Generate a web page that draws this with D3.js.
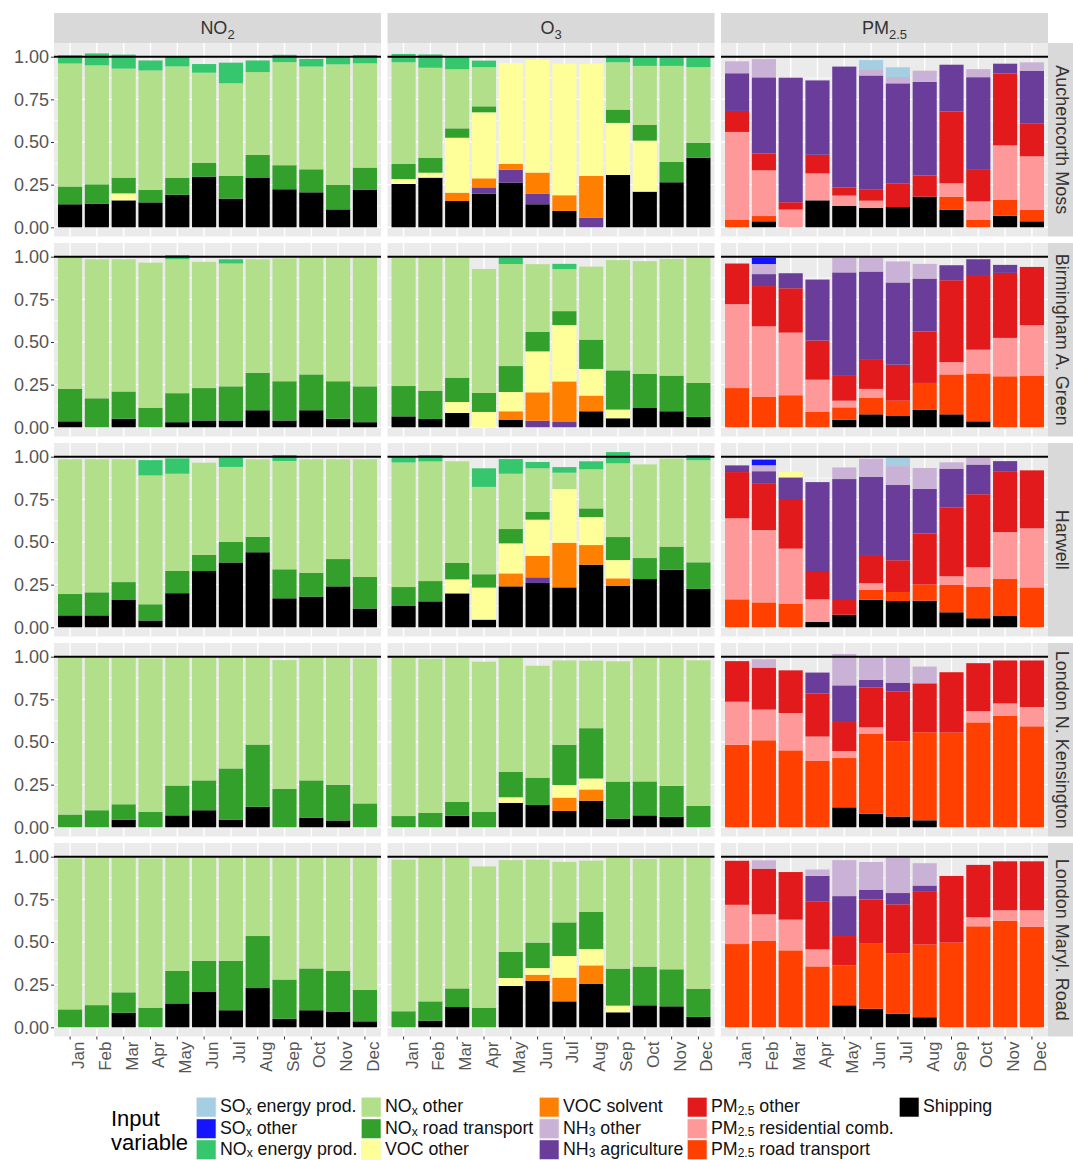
<!DOCTYPE html>
<html>
<head>
<meta charset="utf-8">
<script src="https://cdn.jsdelivr.net/npm/d3@7"></script>
<style>
  body { margin: 0; background: #fff; }
  text { font-family: "Liberation Sans", Arial, sans-serif; white-space: pre; }
</style>
</head>
<body>
<div id="chart"></div>
<script>
var months = ["Jan", "Feb", "Mar", "Apr", "May", "Jun", "Jul", "Aug", "Sep", "Oct", "Nov", "Dec"];
var yTicks = [0, 0.25, 0.5, 0.75, 1];
var yMinor = [0.125, 0.375, 0.625, 0.875];
var sites = ["Auchencorth Moss", "Birmingham A. Green", "Harwell", "London N. Kensington", "London Maryl. Road"];
var zero = [0, 0, 0, 0, 0, 0, 0, 0, 0, 0, 0, 0];

// Auchencorth Moss
var moss_no2_ship = [.135, .139, .158, .146, .191, .297, .168, .289, .223, .205, .105, .219];
var moss_no2_vocOther = [0, 0, .041, 0, 0, 0, 0, 0, 0, 0, 0, 0];
var moss_no2_noxRoad = [.104, .113, .092, .074, .098, .080, .133, .135, .141, .135, .143, .131];
var moss_no2_noxOther = [.721, .697, .639, .699, .654, .529, .543, .486, .604, .602, .707, .611];
var moss_no2_noxEnergy = [.049, .070, .082, .059, .057, .051, .121, .068, .043, .045, .049, .049];

var moss_o3_ship = [.254, .291, .154, .197, .262, .135, .096, 0, .307, .209, .264, .408];
var moss_o3_nh3Agri = [0, 0, 0, .037, .076, .061, 0, .055, 0, 0, 0, 0];
var moss_o3_vocSolv = [0, 0, .049, .053, .033, .125, .092, .246, 0, 0, 0, 0];
var moss_o3_vocOther = [.029, .029, .322, .387, .592, .660, .771, .658, .305, .299, 0, 0];
var moss_o3_noxRoad = [.088, .088, .055, .035, 0, 0, 0, 0, .078, .092, .119, .088];
var moss_o3_noxOther = [.596, .527, .346, .229, 0, 0, 0, 0, .277, .346, .563, .443];
var moss_o3_noxEnergy = [.049, .078, .074, .039, 0, 0, 0, 0, .039, .051, .051, .057];

var moss_pm_ship = [0, .035, 0, .158, .125, .113, .119, .180, .102, 0, .068, .035];
var moss_pm_pmRoad = [.043, .031, 0, 0, 0, 0, 0, 0, .078, .045, .094, .068];
var moss_pm_pmRes = [.516, .268, .104, .158, .061, .043, 0, 0, .078, .107, .318, .313];
var moss_pm_pmOther = [.123, .098, .043, .109, .047, .064, .139, .123, .420, .189, .422, .191];
var moss_pm_nh3Agri = [.221, .447, .730, .436, .709, .670, .586, .549, .275, .539, .057, .311];
var moss_pm_nh3Other = [.070, .107, 0, 0, 0, .037, .037, .066, 0, .047, 0, .049];
var moss_pm_soxEnergy = [0, 0, 0, 0, 0, .053, .057, 0, 0, 0, 0, 0];

// Birmingham A. Green
var bham_no2_ship = [.035, 0, .05, 0, .03, .04, .04, .10, .04, .10, .05, .03];
var bham_no2_noxRoad = [.19, .17, .16, .115, .17, .19, .20, .22, .23, .21, .22, .21];
var bham_no2_noxOther = [.775, .815, .775, .85, .785, .74, .72, .665, .72, .685, .725, .755];
var bham_no2_noxEnergy = [0, 0, 0, 0, .025, 0, .025, 0, 0, 0, 0, 0];

var bham_o3_ship = [.064, .049, .084, 0, .045, 0, 0, .094, .053, .113, .094, .061];
var bham_o3_nh3Agri = [0, 0, 0, 0, 0, .039, .031, 0, 0, 0, 0, 0];
var bham_o3_vocSolv = [0, 0, 0, 0, .049, .166, .238, .092, 0, 0, 0, 0];
var bham_o3_vocOther = [0, 0, .064, .090, .113, .240, .330, .156, .051, 0, 0, 0];
var bham_o3_noxRoad = [.178, .166, .143, .111, .152, .115, .082, .172, .230, .201, .209, .199];
var bham_o3_noxOther = [.752, .779, .703, .727, .598, .396, .246, .428, .646, .660, .684, .734];
var bham_o3_noxEnergy = [0, 0, 0, 0, .037, 0, .031, 0, 0, 0, 0, 0];

var bham_pm_ship = [0, 0, 0, 0, .045, .076, .066, .102, .076, .035, 0, 0];
var bham_pm_pmRoad = [.230, .180, .188, .090, .072, .098, .090, .158, .234, .281, .299, .301];
var bham_pm_pmRes = [.492, .412, .367, .189, .039, .051, 0, 0, .072, .139, .225, .297];
var bham_pm_pmOther = [.238, .236, .260, .230, .150, .170, .211, .301, .480, .432, .381, .342];
var bham_pm_nh3Agri = [0, .070, .088, .357, .602, .518, .482, .311, .088, .098, .047, 0];
var bham_pm_nh3Other = [0, .059, 0, 0, .086, .082, .123, .086, 0, 0, 0, 0];
var bham_pm_soxOther = [0, .037, 0, 0, 0, 0, 0, 0, 0, 0, 0, 0];

// Harwell
var harw_no2_ship = [.07, .07, .16, .04, .20, .33, .38, .44, .17, .18, .24, .11];
var harw_no2_noxRoad = [.125, .135, .105, .095, .13, .095, .12, .09, .17, .14, .16, .185];
var harw_no2_noxOther = [.79, .78, .72, .755, .57, .54, .44, .455, .635, .665, .585, .69];
var harw_no2_noxEnergy = [0, 0, 0, .09, .09, 0, .055, 0, .035, 0, 0, 0];

var harw_o3_ship = [.125, .152, .199, .045, .240, .260, .234, .367, .242, .283, .338, .225];
var harw_o3_nh3Agri = [0, 0, 0, 0, 0, .033, 0, 0, 0, 0, 0, 0];
var harw_o3_vocSolv = [0, 0, 0, 0, .076, .125, .262, .115, .045, 0, 0, 0];
var harw_o3_vocOther = [0, 0, .082, .188, .176, .213, .314, .164, .107, 0, 0, 0];
var harw_o3_noxRoad = [.111, .119, .096, .078, .084, .045, 0, .051, .135, .123, .135, .156];
var harw_o3_noxOther = [.730, .701, .596, .512, .324, .256, .096, .229, .432, .549, .516, .598];
var harw_o3_noxEnergy = [.031, .037, 0, .109, .086, .037, .033, .047, .066, 0, 0, .031];

var harw_pm_ship = [0, 0, 0, .031, .074, .162, .154, .156, .088, .053, .066, 0];
var harw_pm_pmRoad = [.164, .146, .139, 0, 0, .057, .053, .094, .160, .186, .217, .234];
var harw_pm_pmRes = [.475, .424, .322, .133, 0, .039, 0, 0, .051, .113, .275, .346];
var harw_pm_pmOther = [.271, .275, .291, .166, .086, .166, .186, .299, .402, .428, .357, .340];
var harw_pm_nh3Agri = [.039, .070, .127, .521, .709, .457, .441, .262, .229, .174, .059, 0];
var harw_pm_nh3Other = [0, .035, 0, 0, .068, .107, .111, .123, .037, .041, 0, 0];
var harw_pm_vocOther = [0, 0, .033, 0, 0, 0, 0, 0, 0, 0, 0, 0];
var harw_pm_soxOther = [0, .033, 0, 0, 0, 0, 0, 0, 0, 0, 0, 0];
var harw_pm_soxEnergy = [0, 0, 0, 0, 0, 0, .049, 0, 0, 0, 0, 0];

// London N. Kensington
var kens_no2_ship = [0, 0, .045, 0, .07, .10, .045, .12, 0, .055, .04, 0];
var kens_no2_noxRoad = [.075, .10, .09, .09, .175, .175, .30, .365, .225, .22, .21, .14];
var kens_no2_noxOther = [.92, .895, .86, .90, .75, .72, .65, .51, .755, .72, .745, .85];

var kens_o3_ship = [0, 0, .068, 0, .143, .131, .096, .156, .051, .070, .061, 0];
var kens_o3_vocSolv = [0, 0, 0, 0, 0, 0, .078, .066, 0, 0, 0, 0];
var kens_o3_vocOther = [0, 0, 0, 0, .033, 0, .074, .064, 0, 0, 0, 0];
var kens_o3_noxRoad = [.066, .084, .082, .090, .150, .160, .236, .295, .217, .199, .182, .125];
var kens_o3_noxOther = [.928, .904, .844, .881, .668, .656, .494, .396, .705, .725, .752, .854];

var kens_pm_ship = [0, 0, 0, 0, .117, .080, .063, .041, 0, 0, 0, 0];
var kens_pm_pmRoad = [.484, .510, .451, .391, .289, .467, .441, .516, .555, .615, .654, .592];
var kens_pm_pmRes = [.252, .180, .219, .141, .041, .039, 0, 0, 0, .066, .072, .113];
var kens_pm_pmOther = [.238, .246, .250, .252, .170, .234, .291, .287, .354, .281, .252, .273];
var kens_pm_nh3Agri = [0, 0, 0, .123, .215, .045, .053, 0, 0, 0, 0, 0];
var kens_pm_nh3Other = [0, .049, 0, 0, .184, .133, .150, .098, 0, 0, 0, 0];

// London Maryl. Road
var mary_no2_ship = [0, 0, .085, 0, .14, .21, .10, .23, .05, .10, .09, .035];
var mary_no2_noxRoad = [.105, .13, .12, .115, .19, .18, .29, .305, .23, .245, .24, .185];
var mary_no2_noxOther = [.885, .865, .79, .875, .665, .605, .605, .46, .715, .65, .665, .775];

var mary_o3_ship = [0, .039, .119, 0, .242, .273, .152, .254, .088, .129, .123, .061];
var mary_o3_vocSolv = [0, 0, 0, 0, 0, .035, .139, .109, 0, 0, 0, 0];
var mary_o3_vocOther = [0, 0, 0, 0, .047, .039, .127, .096, .039, 0, 0, 0];
var mary_o3_noxRoad = [.094, .113, .109, .115, .154, .150, .197, .217, .217, .227, .217, .164];
var mary_o3_noxOther = [.889, .844, .764, .828, .537, .486, .355, .301, .648, .631, .652, .768];

var mary_pm_ship = [0, 0, 0, 0, .129, .109, .080, .059, 0, 0, 0, 0];
var mary_pm_pmRoad = [.488, .506, .451, .357, .234, .381, .352, .426, .496, .592, .625, .590];
var mary_pm_pmRes = [.230, .156, .180, .100, 0, 0, 0, 0, 0, .053, .061, .096];
var mary_pm_pmOther = [.258, .268, .279, .279, .172, .260, .289, .309, .391, .307, .287, .287];
var mary_pm_nh3Agri = [0, 0, 0, .152, .234, .057, .066, .037, 0, 0, 0, 0];
var mary_pm_nh3Other = [0, .049, 0, .037, .211, .162, .209, .131, 0, 0, 0, 0];

// stack order, bottom to top
var stackKeys = ["ship", "pmRoad", "pmRes", "pmOther", "nh3Agri", "nh3Other", "vocSolv", "vocOther",
    "noxRoad", "noxOther", "noxEnergy", "soxOther", "soxEnergy"];

var colors = {
    soxEnergy: "#A6CEE3", soxOther: "#1414FF", noxEnergy: "#36C76E", noxOther: "#B2DF8A",
    noxRoad: "#33A02C", vocOther: "#FFFF99", vocSolv: "#FF7F00", nh3Other: "#CAB2D6",
    nh3Agri: "#6A3D9A", pmOther: "#E31A1C", pmRes: "#FF9999", pmRoad: "#FF4000", ship: "#000000"
};

// legend text, [plain, subscript, plain]
var legendLabels = {
    soxEnergy: ["SO", "x", " energy prod."], soxOther: ["SO", "x", " other"], noxEnergy: ["NO", "x", " energy prod."],
    noxOther: ["NO", "x", " other"], noxRoad: ["NO", "x", " road transport"], vocOther: ["VOC other", "", ""],
    vocSolv: ["VOC solvent", "", ""], nh3Other: ["NH", "3", " other"], nh3Agri: ["NH", "3", " agriculture"],
    pmOther: ["PM", "2.5", " other"], pmRes: ["PM", "2.5", " residential comb."], pmRoad: ["PM", "2.5", " road transport"],
    ship: ["Shipping", "", ""]
};
var legendColumns = [
    ["soxEnergy", "soxOther", "noxEnergy"],
    ["noxOther", "noxRoad", "vocOther"],
    ["vocSolv", "nh3Other", "nh3Agri"],
    ["pmOther", "pmRes", "pmRoad"],
    ["ship"]
];

var pollutants = [["NO", "2"], ["O", "3"], ["PM", "2.5"]];

// one row per site, one cell per pollutant
var table = [
    [{ ship: moss_no2_ship, vocOther: moss_no2_vocOther, noxRoad: moss_no2_noxRoad, noxOther: moss_no2_noxOther, noxEnergy: moss_no2_noxEnergy },
     { ship: moss_o3_ship, nh3Agri: moss_o3_nh3Agri, vocSolv: moss_o3_vocSolv, vocOther: moss_o3_vocOther, noxRoad: moss_o3_noxRoad, noxOther: moss_o3_noxOther, noxEnergy: moss_o3_noxEnergy },
     { ship: moss_pm_ship, pmRoad: moss_pm_pmRoad, pmRes: moss_pm_pmRes, pmOther: moss_pm_pmOther, nh3Agri: moss_pm_nh3Agri, nh3Other: moss_pm_nh3Other, soxEnergy: moss_pm_soxEnergy }],
    [{ ship: bham_no2_ship, noxRoad: bham_no2_noxRoad, noxOther: bham_no2_noxOther, noxEnergy: bham_no2_noxEnergy },
     { ship: bham_o3_ship, nh3Agri: bham_o3_nh3Agri, vocSolv: bham_o3_vocSolv, vocOther: bham_o3_vocOther, noxRoad: bham_o3_noxRoad, noxOther: bham_o3_noxOther, noxEnergy: bham_o3_noxEnergy },
     { ship: bham_pm_ship, pmRoad: bham_pm_pmRoad, pmRes: bham_pm_pmRes, pmOther: bham_pm_pmOther, nh3Agri: bham_pm_nh3Agri, nh3Other: bham_pm_nh3Other, soxOther: bham_pm_soxOther }],
    [{ ship: harw_no2_ship, noxRoad: harw_no2_noxRoad, noxOther: harw_no2_noxOther, noxEnergy: harw_no2_noxEnergy },
     { ship: harw_o3_ship, nh3Agri: harw_o3_nh3Agri, vocSolv: harw_o3_vocSolv, vocOther: harw_o3_vocOther, noxRoad: harw_o3_noxRoad, noxOther: harw_o3_noxOther, noxEnergy: harw_o3_noxEnergy },
     { ship: harw_pm_ship, pmRoad: harw_pm_pmRoad, pmRes: harw_pm_pmRes, pmOther: harw_pm_pmOther, nh3Agri: harw_pm_nh3Agri, nh3Other: harw_pm_nh3Other, vocOther: harw_pm_vocOther, soxOther: harw_pm_soxOther, soxEnergy: harw_pm_soxEnergy }],
    [{ ship: kens_no2_ship, noxRoad: kens_no2_noxRoad, noxOther: kens_no2_noxOther },
     { ship: kens_o3_ship, vocSolv: kens_o3_vocSolv, vocOther: kens_o3_vocOther, noxRoad: kens_o3_noxRoad, noxOther: kens_o3_noxOther },
     { ship: kens_pm_ship, pmRoad: kens_pm_pmRoad, pmRes: kens_pm_pmRes, pmOther: kens_pm_pmOther, nh3Agri: kens_pm_nh3Agri, nh3Other: kens_pm_nh3Other }],
    [{ ship: mary_no2_ship, noxRoad: mary_no2_noxRoad, noxOther: mary_no2_noxOther },
     { ship: mary_o3_ship, vocSolv: mary_o3_vocSolv, vocOther: mary_o3_vocOther, noxRoad: mary_o3_noxRoad, noxOther: mary_o3_noxOther },
     { ship: mary_pm_ship, pmRoad: mary_pm_pmRoad, pmRes: mary_pm_pmRes, pmOther: mary_pm_pmOther, nh3Agri: mary_pm_nh3Agri, nh3Other: mary_pm_nh3Other }]
];

// layout
var width = 1073, height = 1160;
var panelX = [54, 387.5, 721], panelW = 327;
var panelTop = [43, 243, 443, 643, 843], panelH = 193.5;
var unitPx = 170.6;         // pixels per 1.00 on the y axis
var zeroOffset = 184.3;     // panel top to y = 0
var stripRightW = 25;

var svg = d3.select("#chart").append("svg")
    .attr("width", width)
    .attr("height", height)
    .style("display", "block");

function addSub(sel, parts, subSize, dy) {
    sel.append("tspan").text(parts[0]);
    if (parts[1]) {
        sel.append("tspan").attr("font-size", subSize).attr("dy", dy).text(parts[1]);
    }
    if (parts[2]) {
        sel.append("tspan").attr("dy", -dy).text(parts[2]);
    }
}

var stack = d3.stack().keys(stackKeys);

// top strips
pollutants.forEach(function(p, c) {
    svg.append("rect").attr("x", panelX[c]).attr("y", 13).attr("width", panelW).attr("height", 30).attr("fill", "#D9D9D9");
    var t = svg.append("text")
        .attr("x", panelX[c] + panelW / 2)
        .attr("y", 34)
        .attr("text-anchor", "middle")
        .attr("font-size", 18)
        .attr("fill", "#333");
    addSub(t, p, 13, 5);
});

table.forEach(function(row, r) {
    var y0 = panelTop[r] + zeroOffset;
    var y = d3.scaleLinear().domain([0, 1]).range([y0, y0 - unitPx]);

    // right strip
    svg.append("rect")
        .attr("x", panelX[2] + panelW)
        .attr("y", panelTop[r])
        .attr("width", stripRightW)
        .attr("height", panelH)
        .attr("fill", "#D9D9D9");
    svg.append("text")
        .attr("transform", "translate(" + (panelX[2] + panelW + 8) + "," + (panelTop[r] + panelH / 2) + ") rotate(90)")
        .attr("text-anchor", "middle")
        .attr("font-size", 18)
        .attr("fill", "#333")
        .text(sites[r]);

    row.forEach(function(cell, c) {
        var x = d3.scaleBand()
            .domain(months)
            .range([panelX[c], panelX[c] + panelW])
            .paddingInner(0.1)
            .paddingOuter(0.15);

        var g = svg.append("g");

        g.append("rect")
            .attr("x", panelX[c]).attr("y", panelTop[r])
            .attr("width", panelW).attr("height", panelH)
            .attr("fill", "#EBEBEB");

        // grid
        g.selectAll(".minor").data(yMinor).enter().append("line")
            .attr("x1", panelX[c]).attr("x2", panelX[c] + panelW)
            .attr("y1", y).attr("y2", y)
            .attr("stroke", "#fff").attr("stroke-width", 0.7);
        g.selectAll(".major").data(yTicks).enter().append("line")
            .attr("x1", panelX[c]).attr("x2", panelX[c] + panelW)
            .attr("y1", y).attr("y2", y)
            .attr("stroke", "#fff").attr("stroke-width", 1.4);
        g.selectAll(".vgrid").data(months).enter().append("line")
            .attr("x1", function(d) { return x(d) + x.bandwidth() / 2; })
            .attr("x2", function(d) { return x(d) + x.bandwidth() / 2; })
            .attr("y1", panelTop[r]).attr("y2", panelTop[r] + panelH)
            .attr("stroke", "#fff").attr("stroke-width", 1.4);

        // bars
        var rows = months.map(function(m, i) {
            var o = { month: m };
            stackKeys.forEach(function(k) { o[k] = (cell[k] || zero)[i]; });
            return o;
        });
        g.selectAll(".series").data(stack(rows)).enter().append("g")
            .attr("fill", function(s) { return colors[s.key]; })
            .selectAll("rect").data(function(s) { return s.filter(function(d) { return d[1] > d[0]; }); })
            .enter().append("rect")
            .attr("x", function(d) { return x(d.data.month); })
            .attr("width", x.bandwidth())
            .attr("y", function(d) { return y(d[1]); })
            .attr("height", function(d) { return y(d[0]) - y(d[1]); });

        // reference line at 1
        g.append("line")
            .attr("x1", panelX[c]).attr("x2", panelX[c] + panelW)
            .attr("y1", y(1)).attr("y2", y(1))
            .attr("stroke", "#000").attr("stroke-width", 2);

        // axes
        if (c === 0) {
            var yAxis = d3.axisLeft(y).tickValues(yTicks).tickFormat(d3.format(".2f")).tickSize(3).tickPadding(2);
            var ya = svg.append("g").attr("transform", "translate(" + panelX[c] + ",0)").call(yAxis);
            ya.select(".domain").remove();
            ya.selectAll("line").attr("stroke", "#333");
            ya.selectAll("text").attr("font-size", 18).attr("fill", "#555").style("font-family", "'Liberation Sans'");
        }
        if (r === table.length - 1) {
            var xAxis = d3.axisBottom(x).tickSize(3);
            var xa = svg.append("g").attr("transform", "translate(0," + (panelTop[r] + panelH) + ")").call(xAxis);
            xa.select(".domain").remove();
            xa.selectAll("line").attr("stroke", "#333");
            xa.selectAll("text")
                .attr("font-size", 17)
                .attr("fill", "#555")
                .style("font-family", "'Liberation Sans'")
                .attr("text-anchor", "end")
                .attr("dy", null)
                .attr("y", null)
                .attr("transform", "translate(14,5) rotate(-90)");
        }
    });
});

// legend
svg.append("text").attr("x", 111).attr("y", 1126).attr("font-size", 22).attr("fill", "#000").text("Input");
svg.append("text").attr("x", 111).attr("y", 1150).attr("font-size", 22).attr("fill", "#000").text("variable");

var legendKeyX = [196, 361, 539, 687, 899];
var legendRowY = [1097, 1118.5, 1139.5];
legendColumns.forEach(function(col, c) {
    col.forEach(function(key, i) {
        svg.append("rect")
            .attr("x", legendKeyX[c]).attr("y", legendRowY[i])
            .attr("width", 20.5).attr("height", 20.5)
            .attr("fill", "#F2F2F2");
        svg.append("rect")
            .attr("x", legendKeyX[c] + 0.7).attr("y", legendRowY[i] + 0.7)
            .attr("width", 19).attr("height", 19)
            .attr("fill", colors[key]);
        var t = svg.append("text")
            .attr("x", legendKeyX[c] + 24)
            .attr("y", legendRowY[i] + 15)
            .attr("font-size", 17.8)
            .attr("fill", "#111");
        addSub(t, legendLabels[key], 12, 2.5);
    });
});
</script>
</body>
</html>
